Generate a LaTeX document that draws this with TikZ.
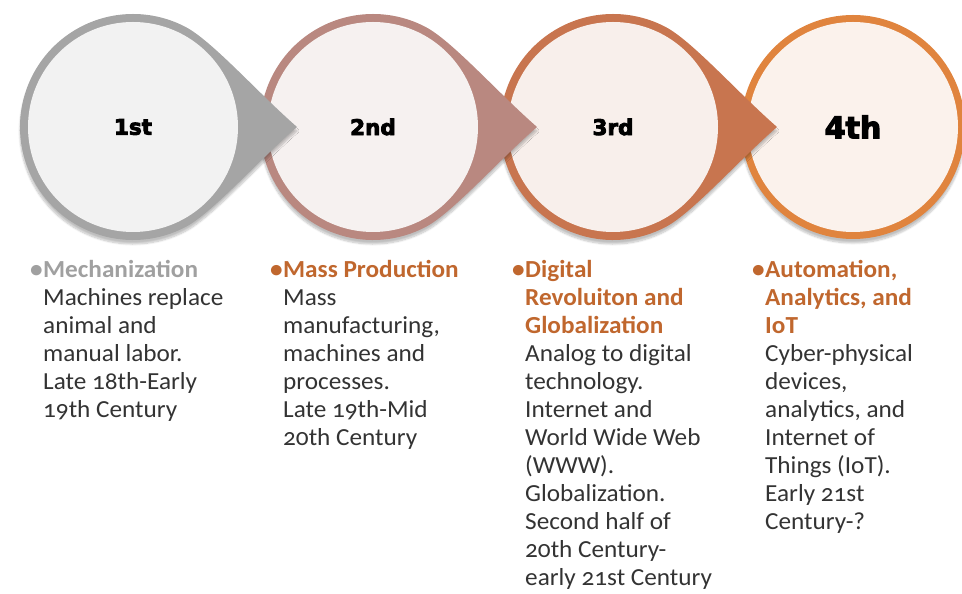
\documentclass[tikz,border=0pt]{standalone}
\usepackage{fontspec}
\setmainfont{Carlito}[Numbers=OldStyle, FakeStretch=1.03]
\newfontfamily\numfont{DejaVu Sans}[BoldFeatures={FakeBold=4}]
\usetikzlibrary{calc,shadows.blur}
\definecolor{ringA}{HTML}{A5A5A5}
\definecolor{ringB}{HTML}{B98880}
\definecolor{ringC}{HTML}{C8754F}
\definecolor{ringD}{HTML}{E0843E}
\definecolor{fillA}{HTML}{F2F2F2}
\definecolor{fillB}{HTML}{F6F1F0}
\definecolor{fillC}{HTML}{F8EFEB}
\definecolor{fillD}{HTML}{FBF2EC}
\definecolor{headA}{HTML}{A0A0A0}
\definecolor{headB}{HTML}{C0672E}
\definecolor{bodytxt}{HTML}{333333}
\newcommand\hdline[1]{\llap{\textbullet\hspace{0.5pt}}#1}
\tikzset{
  coltext/.style={anchor=north west, inner sep=0pt, align=left, text=bodytxt,
    font=\fontsize{24.5}{28}\selectfont},
  ordlabel/.style={font=\numfont\bfseries\fontsize{21.5}{24}\selectfont, text=black},
  softshadow/.style={blur shadow={shadow blur steps=10, shadow xshift=0pt, shadow yshift=-4pt, shadow opacity=25}}
}
\newcommand\teardrop[3]{% cx, ring colour, fill colour
  \fill[#2, softshadow] (#1,467) ++(62:113) .. controls +(-28:30) and +(139:50) .. (#1+164,467)
     .. controls +(-139:50) and +(28:30) .. ($(#1,467)+(-62:113)$)
     arc[start angle=-62, end angle=-298, radius=113] -- cycle;
  \fill[#3] (#1,467) circle[radius=105];
}
\begin{document}
\begin{tikzpicture}[x=1pt,y=1pt]
\useasboundingbox (0,0) rectangle (962,594);
% circle 4 (no tail), drawn first
\fill[ringD, softshadow] (853,467) circle[radius=112];
\fill[fillD] (853,467) circle[radius=105];
\teardrop{613}{ringC}{fillC}
\teardrop{373}{ringB}{fillB}
\teardrop{133}{ringA}{fillA}
\node[ordlabel] (n1) at (133,467) {1st};
\node[ordlabel] (n2) at (373,467) {2nd};
\node[ordlabel] (n3) at (613,467) {3rd};
\node[ordlabel, font=\numfont\bfseries\fontsize{30}{34}\selectfont] (n4) at (853,467) {4th};
% text columns
\node[coltext] (t1) at (43,334) {\textcolor{headA}{\bfseries\hdline{Mechanization}}\\
Machines replace\\ animal and\\ manual labor.\\ Late 18th-Early\\ 19th Century};
\node[coltext] (t2) at (283,334) {\textcolor{headB}{\bfseries\hdline{Mass Production}}\\
Mass\\ manufacturing,\\ machines and\\ processes.\\ Late 19th-Mid\\ 20th Century};
\node[coltext] (t3) at (525,334) {\textcolor{headB}{\bfseries\hdline{Digital}}\\
\textcolor{headB}{\bfseries Revoluiton and}\\ \textcolor{headB}{\bfseries Globalization}\\
Analog to digital\\ technology.\\ Internet and\\ World Wide Web\\ (WWW).\\ Globalization.\\ Second half of\\ 20th Century-\\ early 21st Century};
\node[coltext] (t4) at (765,334) {\textcolor{headB}{\bfseries\hdline{Automation,}}\\
\textcolor{headB}{\bfseries Analytics, and}\\ \textcolor{headB}{\bfseries IoT}\\
Cyber-physical\\ devices,\\ analytics, and\\ Internet of\\ Things (IoT).\\ Early 21st\\ Century-?};
\end{tikzpicture}
\end{document}
